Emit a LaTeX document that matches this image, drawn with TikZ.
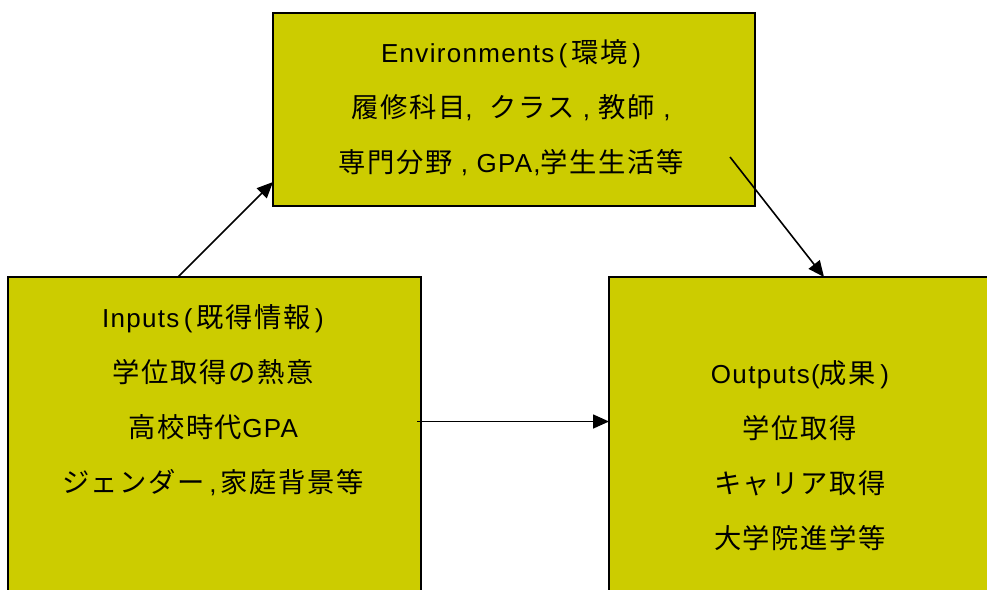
\documentclass[tikz,border=0pt]{standalone}
\usepackage{fontspec}
\setmainfont[LetterSpace=5]{Liberation Sans}
\newfontfamily\jp[LetterSpace=6,Scale=1.05]{Noto Sans CJK JP}
\usetikzlibrary{arrows.meta}
\newcommand{\J}[1]{{\jp #1}}
\definecolor{boxfill}{RGB}{204,204,0}
\begin{document}
\begin{tikzpicture}[x=0.75pt,y=-0.75pt,
  box/.style={draw=black, line width=1.5pt, fill=boxfill, rectangle, inner sep=0pt},
  txt/.style={align=center, font=\fontsize{19.5}{41.25}\selectfont, inner sep=0pt, text=black},
  arr/.style={draw=black, line width=1.2pt, -{Triangle[length=12pt,width=10.5pt]}}]
\useasboundingbox (0,0) rectangle (987,589);
\clip (0,0) rectangle (987,589);
% boxes
\node[box, minimum width=361.5pt, minimum height=144.4pt] (env) at (514,109.75) {};
\node[box, minimum width=309.75pt, minimum height=317.25pt] (inp) at (214.5,488.5) {};
\node[box, minimum width=286.5pt, minimum height=317.25pt] (out) at (800,488.5) {};
% texts
\node[txt] (envt) at (511,108) {Environments\,(\,\J{環境}\,)\\
  \J{履修科目}, \ \J{クラス} , \J{教師} ,\\
  \J{専門分野} , GPA,\J{学生生活等}};
\node[txt] (inpt) at (213,400.5) {Inputs\,(\,\J{既得情報}\,)\\
  \J{学位取得の熱意}\\
  \J{高校時代}GPA\\
  \J{ジェンダー}\,,\,\J{家庭背景等}};
\node[txt] (outt) at (800,455.5) {Outputs(\J{成果}\,)\\
  \J{学位取得}\\
  \J{キャリア取得}\\
  \J{大学院進学等}};
% connectors
\coordinate (a1s) at (178,277);
\coordinate (a1e) at (273,182);
\coordinate (a2s) at (730,157);
\coordinate (a2e) at (824,277);
\coordinate (a3s) at (417,421.5);
\coordinate (a3e) at (609,421.5);
\draw[arr] (a1s) -- (a1e);
\draw[arr] (a2s) -- (a2e);
\draw[arr] (a3s) -- (a3e);
\end{tikzpicture}
\end{document}
